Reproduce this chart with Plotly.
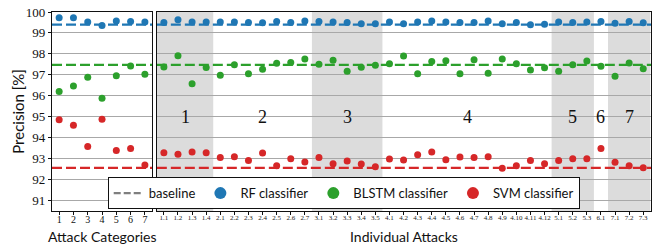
import plotly.graph_objects as go

# ---------------- data ----------------
categories = [1, 2, 3, 4, 5, 6, 7]
rf_cat = [99.73, 99.73, 99.52, 99.36, 99.57, 99.54, 99.52]
blstm_cat = [96.20, 96.46, 96.88, 95.87, 96.95, 97.42, 97.02]
svm_cat = [94.84, 94.58, 93.57, 94.87, 93.38, 93.47, 92.68]

group_names = ["1", "2", "3", "4", "5", "6", "7"]
group_sizes = [4, 7, 5, 12, 3, 1, 3]
attacks = [f"{g}.{k}" for g, n in zip(group_names, group_sizes) for k in range(1, n + 1)]

rf_att = [99.50, 99.63, 99.52, 99.52,
          99.52, 99.52, 99.50, 99.48, 99.54, 99.50, 99.57,
          99.54, 99.52, 99.50, 99.44, 99.44,
          99.52, 99.44, 99.52, 99.57, 99.52, 99.50, 99.50, 99.57, 99.44, 99.50, 99.39, 99.41,
          99.52, 99.50, 99.52,
          99.54,
          99.46, 99.54, 99.48]
blstm_att = [97.37, 97.91, 96.57, 97.34,
             96.97, 97.48, 97.04, 97.26, 97.55, 97.58, 97.75,
             97.50, 97.69, 97.17, 97.36, 97.45,
             97.52, 97.90, 97.04, 97.63, 97.67, 97.04, 97.72, 97.07, 97.75, 97.52, 97.22, 97.33,
             97.17, 97.48, 97.66,
             97.40,
             96.93, 97.56, 97.29]
svm_att = [93.27, 93.19, 93.30, 93.27,
           93.04, 93.08, 92.89, 93.25, 92.64, 92.98, 92.82,
           93.04, 92.74, 92.87, 92.73, 92.60,
           92.97, 92.92, 93.17, 93.30, 92.93, 93.06, 93.04, 93.08, 92.52, 92.65, 92.89, 92.74,
           92.90, 92.98, 92.98,
           93.47,
           92.81, 92.65, 92.55]

baseline_rf = 99.40
baseline_blstm = 97.47
baseline_svm = 92.54

y_ticks = [91, 92, 93, 94, 95, 96, 97, 98, 99, 100]

# ---------------- style ----------------
C_RF = "#1f77b4"
C_BL = "#2ca02c"
C_SVM = "#d62728"
C_BASE = "#7f7f7f"
SERIF = "Liberation Serif"
SANS = "Lato"

fig = go.Figure()

att_idx = list(range(len(attacks)))
x1_range = [categories[0] - 0.5, categories[-1] + 0.5]
x2_range = [-0.5, len(attacks) - 0.45]

series = [(rf_cat, rf_att, baseline_rf, C_RF),
          (blstm_cat, blstm_att, baseline_blstm, C_BL),
          (svm_cat, svm_att, baseline_svm, C_SVM)]

# baselines (drawn first)
for _, _, b, c in series:
    fig.add_trace(go.Scatter(x=x1_range, y=[b, b], mode="lines", xaxis="x", yaxis="y",
                             line=dict(color=c, width=2.2, dash="10px,4px"),
                             showlegend=False, hoverinfo="skip"))
    fig.add_trace(go.Scatter(x=x2_range, y=[b, b], mode="lines", xaxis="x2", yaxis="y2",
                             line=dict(color=c, width=2.2, dash="10px,4px"),
                             showlegend=False, hoverinfo="skip"))

for cat_vals, att_vals, _, c in series:
    fig.add_trace(go.Scatter(x=categories, y=cat_vals, mode="markers", xaxis="x", yaxis="y",
                             marker=dict(color=c, size=7), showlegend=False))
    fig.add_trace(go.Scatter(x=att_idx, y=att_vals, mode="markers", xaxis="x2", yaxis="y2",
                             marker=dict(color=c, size=7), showlegend=False))

# legend entries
fig.add_trace(go.Scatter(x=[None], y=[None], mode="lines", name="baseline",
                         line=dict(color=C_BASE, width=2.2, dash="7px,3px")))
for name, c in [("RF classifier", C_RF), ("BLSTM classifier", C_BL), ("SVM classifier", C_SVM)]:
    fig.add_trace(go.Scatter(x=[None], y=[None], mode="markers", name=name,
                             marker=dict(color=c, size=12)))

# shaded group bands and group labels
start = 0
for gi, (g, n) in enumerate(zip(group_names, group_sizes)):
    lo, hi = start - 0.5, start + n - 0.5
    if gi % 2 == 0:
        fig.add_shape(type="rect", xref="x2", yref="y2 domain", x0=lo, x1=hi, y0=0, y1=1,
                      fillcolor="#dcdcdc", line=dict(width=0), layer="below")
    fig.add_annotation(x=(lo + hi) / 2, y=95.0, xref="x2", yref="y2", text=g,
                       showarrow=False, font=dict(family=SERIF, size=18, color="#111"))
    start += n

# axis titles as annotations
fig.add_annotation(x=0.0835, xref="paper", y=-0.13, yref="paper", text="Attack Categories",
                   showarrow=False, xanchor="center", yanchor="middle",
                   font=dict(family=SANS, size=14, color="#111"))
fig.add_annotation(x=0.5875, xref="paper", y=-0.13, yref="paper", text="Individual Attacks",
                   showarrow=False, xanchor="center", yanchor="middle",
                   font=dict(family=SANS, size=14, color="#111"))
fig.add_annotation(x=-0.058, xref="paper", y=0.5, yref="paper", text="Precision [%]",
                   showarrow=False, textangle=-90, xanchor="center", yanchor="middle",
                   font=dict(family=SANS, size=15, color="#111"))

axis_common = dict(showline=True, linecolor="#111", linewidth=1.3, mirror=True,
                   ticks="outside", ticklen=3, tickcolor="#111", showgrid=False, zeroline=False,
                   ticklabelstandoff=-4, tickangle=0)

y_common = dict(range=[90.48, 100.0], tickvals=y_ticks, showgrid=True, gridcolor="#a8a8a8",
                gridwidth=1.2, zeroline=False, showline=True, linecolor="#111", linewidth=1.3,
                mirror=True)

fig.update_layout(
    width=657, height=248,
    margin=dict(l=52, r=5, t=10, b=37),
    plot_bgcolor="white", paper_bgcolor="white",
    xaxis=dict(domain=[0, 0.167], range=x1_range, tickvals=categories,
               ticktext=[str(c) for c in categories],
               tickfont=dict(family=SERIF, size=10, color="#111"), **axis_common),
    xaxis2=dict(domain=[0.175, 1], range=x2_range, tickvals=att_idx, ticktext=attacks,
                tickfont=dict(family=SERIF, size=7, color="#222"), **axis_common),
    yaxis=dict(anchor="x", ticks="outside", ticklen=3, tickcolor="#111",
               tickfont=dict(family=SERIF, size=13, color="#111"), **y_common),
    yaxis2=dict(anchor="x2", showticklabels=False, ticks="", **y_common),
    legend=dict(orientation="h", x=0.093, xanchor="left", y=0.17, yanchor="top",
                bgcolor="white", bordercolor="#111", borderwidth=1,
                font=dict(family=SANS, size=13, color="#111"),
                itemwidth=30, tracegroupgap=0),
)
fig.update_layout(xaxis_anchor="y", xaxis2_anchor="y2")

# remove the default 8px page margin so the figure fills the window exactly
fig.write_html("out.html", config={"displayModeBar": False},
               post_script="document.body.style.margin='0';")
